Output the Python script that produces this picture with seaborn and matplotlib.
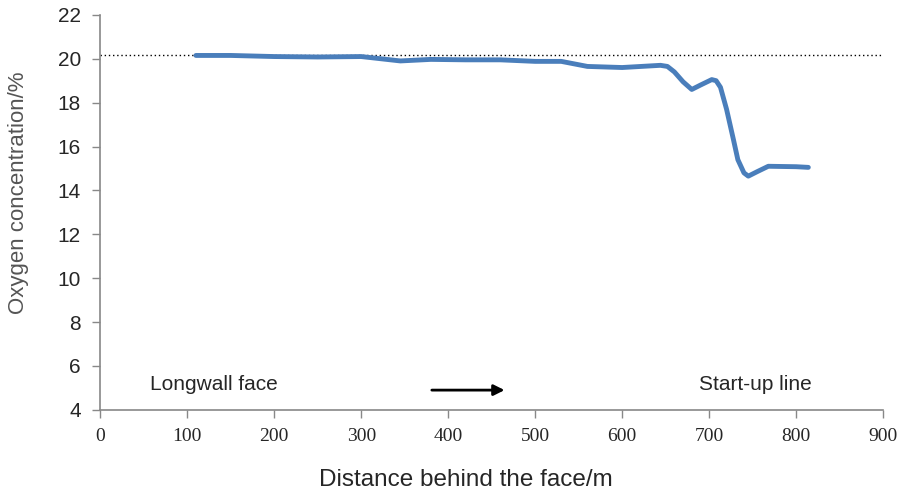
import numpy as np
import pandas as pd
import matplotlib
matplotlib.use("Agg")
import matplotlib.pyplot as plt
import seaborn as sns

# oxygen readings along the goaf
distance = [110, 150, 200, 250, 300, 345, 380, 420, 460, 500, 530, 560, 600, 644,
            652, 660, 670, 680, 690, 703, 708, 713, 720, 728, 733, 740, 745, 755, 768, 800, 814]
oxygen = [20.15, 20.15, 20.1, 20.08, 20.1, 19.9, 19.97, 19.95, 19.95, 19.88, 19.88, 19.65, 19.6, 19.7,
          19.65, 19.4, 18.95, 18.6, 18.8, 19.05, 19.0, 18.7, 17.7, 16.3, 15.4, 14.8, 14.65, 14.85, 15.1, 15.08, 15.05]
ambient = 20.17

xticks = list(range(0, 1000, 100))
yticks = list(range(4, 24, 2))

df = pd.DataFrame({"distance": distance, "oxygen": oxygen})

sns.set_style("ticks")
fig = plt.figure(figsize=(9.03, 4.95), dpi=100)
ax = fig.add_axes([0.111, 0.172, 0.867, 0.798])

ax.axhline(ambient, color="black", linestyle=(0, (1, 2)), linewidth=1.0, zorder=1)
sns.lineplot(data=df, x="distance", y="oxygen", ax=ax, color="#4a7ebb",
             linewidth=3.5, solid_joinstyle="round", solid_capstyle="round", zorder=2)

ax.set_xlim(0, 900)
ax.set_ylim(4, 22)
ax.set_xticks(xticks)
ax.set_yticks(yticks)
ax.set_xticklabels([str(t) for t in xticks], family="Liberation Serif", fontsize=14)
ax.set_yticklabels([str(t) for t in yticks], family="Liberation Sans", fontsize=15)
ax.tick_params(axis="both", color="#888888", length=6, width=1)
ax.tick_params(axis="x", pad=7)
ax.tick_params(axis="y", pad=8)

for side in ["top", "right"]:
    ax.spines[side].set_visible(False)
for side in ["left", "bottom"]:
    ax.spines[side].set_color("#888888")
    ax.spines[side].set_linewidth(1.2)

ax.set_xlabel("Distance behind the face/m", family="Liberation Sans", fontsize=17.5, va="center")
ax.xaxis.set_label_coords(0.467, -0.177)
ax.set_ylabel("Oxygen concentration/%", family="Liberation Sans", fontsize=16,
              color="#555555", va="center")
ax.yaxis.set_label_coords(-0.105, 0.549)

ax.text(57, 5.14, "Longwall face", family="Liberation Sans", fontsize=15, va="center")
ax.text(818, 5.14, "Start-up line", family="Liberation Sans", fontsize=15,
        va="center", ha="right")
ax.annotate("", xy=(468, 4.9), xytext=(378, 4.9),
            arrowprops=dict(arrowstyle="-|>", color="black", lw=2, mutation_scale=16))

fig.savefig("out.png", dpi=100)
